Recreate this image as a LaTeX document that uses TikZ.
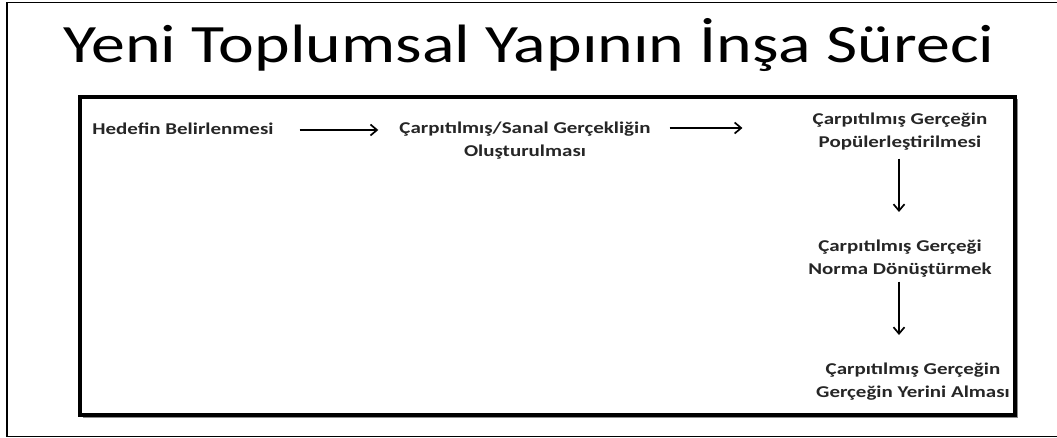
\documentclass[tikz,border=0pt]{standalone}
\usepackage{fontspec}
\setmainfont{Carlito}
\newfontfamily\titlefont[FakeStretch=1.256]{Carlito}
\newfontfamily\bodyfont[FakeStretch=1.27]{Carlito}
\usetikzlibrary{arrows.meta,shadows}
\begin{document}
\begin{tikzpicture}[x=1pt,y=-1pt,
  frame/.style={draw=black,line width=1.3pt},
  panel/.style={draw=black,line width=3.5pt,fill=white,
    drop shadow={shadow xshift=2.5pt,shadow yshift=-2.5pt,opacity=0.45,fill=black}},
  lbl/.style={inner sep=0pt,align=center,font=\bodyfont\bfseries\fontsize{16.5}{23}\selectfont,text=black!85},
  arr/.style={line width=1.5pt,-{Straight Barb[length=6.5pt,width=11pt,line width=1.7pt]}}
]
\useasboundingbox (0,0) rectangle (1057,438);
\fill[white] (0,0) rectangle (1057,438);
% outer frame
\draw[frame] (1060,2.5) -- (7,2.5) -- (7,436.5) -- (1060,436.5);
% title
\node[anchor=base,inner sep=0pt,font=\titlefont\fontsize{54}{60}\selectfont] (title) at (529,63) {Yeni Toplumsal Yapının İnşa Süreci};
% inner panel
\draw[panel] (80,97) rectangle (1015,415);
% texts
\node[lbl,anchor=base] (n1) at (183,135) {Hedefin Belirlenmesi};
\node[lbl,anchor=north] (n2) at (525,122) {Çarpıtılmış/Sanal Gerçekliğin\\Oluşturulması};
\node[lbl,anchor=north] (n3) at (900,113) {Çarpıtılmış Gerçeğin\\Popülerleştirilmesi};
\node[lbl,anchor=north] (n4) at (900,240) {Çarpıtılmış Gerçeği\\Norma Dönüştürmek};
\node[lbl,anchor=north] (n5) at (913,363) {Çarpıtılmış Gerçeğin\\Gerçeğin Yerini Alması};
% arrows
\draw[arr] ([xshift=26pt]n1.east |- 0,130) -- ([xshift=-21pt]n2.west |- 0,130);
\draw[arr] ([xshift=19pt]n2.east |- 0,128) -- ([xshift=-70pt]n3.west |- 0,128);
\draw[arr] (n3.south -| 899,0) ++(0,8) -- (899,212);
\draw[arr] (n4.south -| 899,0) ++(0,4) -- (899,335);
\end{tikzpicture}
\end{document}
